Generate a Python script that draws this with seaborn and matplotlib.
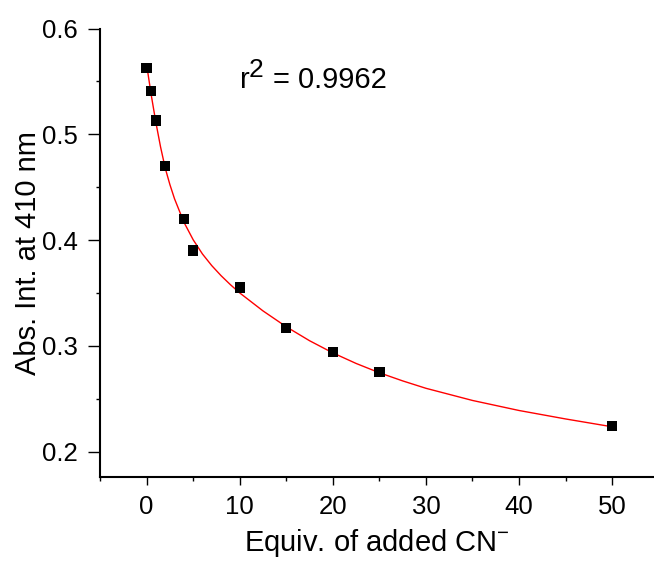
import numpy as np
import pandas as pd
import matplotlib
matplotlib.use("Agg")
import matplotlib.pyplot as plt
import seaborn as sns

# measured points
equiv = [0, 0.5, 1, 2, 4, 5, 10, 15, 20, 25, 50]
abs_410 = [0.563, 0.541, 0.513, 0.470, 0.420, 0.390, 0.355, 0.317, 0.294, 0.275, 0.224]

# fitted curve
fit_x = [0, 0.5, 1, 1.5, 2, 2.5, 3, 4, 5, 6, 7, 8, 9, 10, 12.5, 15, 17.5, 20,
         22.5, 25, 27.5, 30, 35, 40, 45, 50]
fit_y = [0.566, 0.537, 0.511, 0.488, 0.468, 0.4525, 0.439, 0.417, 0.4003, 0.3868,
         0.3758, 0.3663, 0.3578, 0.350, 0.333, 0.318, 0.3048, 0.2933, 0.2833,
         0.2745, 0.2668, 0.2598, 0.2483, 0.2388, 0.2308, 0.2234]

r2_text = "0.9962"

sns.set_style("ticks")
plt.rcParams["font.family"] = ["Liberation Sans", "DejaVu Sans"]
plt.rcParams["mathtext.fontset"] = "custom"
plt.rcParams["mathtext.rm"] = "Liberation Sans"
plt.rcParams["text.color"] = "black"
plt.rcParams["axes.labelcolor"] = "black"

df = pd.DataFrame({"equiv": equiv, "abs": abs_410})
fit_df = pd.DataFrame({"x": fit_x, "y": fit_y})

fig = plt.figure(figsize=(6.54, 5.61), dpi=100)
ax = fig.add_axes([0.153, 0.149, 0.847, 0.8])

sns.lineplot(data=fit_df, x="x", y="y", color="red", linewidth=1.0, ax=ax,
             sort=False, estimator=None)
sns.scatterplot(data=df, x="equiv", y="abs", marker="s", s=55, color="black",
                edgecolor="none", ax=ax, zorder=3)

ax.set_xlim(-5, 54.5)
ax.set_ylim(0.1755, 0.6)
ax.set_xticks([0, 10, 20, 30, 40, 50])
ax.set_xticks([-5, 5, 15, 25, 35, 45], minor=True)
ax.set_yticks([0.2, 0.3, 0.4, 0.5, 0.6])
ax.set_yticks([0.25, 0.35, 0.45, 0.55], minor=True)
ax.set_yticklabels(["0.2", "0.3", "0.4", "0.5", "0.6"])

for side in ["top", "right"]:
    ax.spines[side].set_visible(False)
for side in ["left", "bottom"]:
    ax.spines[side].set_linewidth(1.5)
    ax.spines[side].set_color("black")

ax.tick_params(which="both", direction="out", width=1.0, colors="black",
               labelcolor="black", labelsize=18.5)
ax.tick_params(axis="x", which="major", length=6, pad=6.5)
ax.tick_params(axis="y", which="major", length=9, pad=7)
ax.tick_params(which="minor", length=3)

ax.set_xlabel("Equiv. of added CN$^{\\mathregular{-}}$", fontsize=21, labelpad=6)
ax.set_ylabel("Abs. Int. at 410 nm", fontsize=21, labelpad=0)

ax.text(10.0, 0.544, "r", fontsize=21, va="baseline", ha="left")
ax.text(11.0, 0.5546, "2", fontsize=19, va="baseline", ha="left")
ax.text(13.6, 0.544, "= " + r2_text, fontsize=21, va="baseline", ha="left")

fig.savefig("out.png", dpi=100)
